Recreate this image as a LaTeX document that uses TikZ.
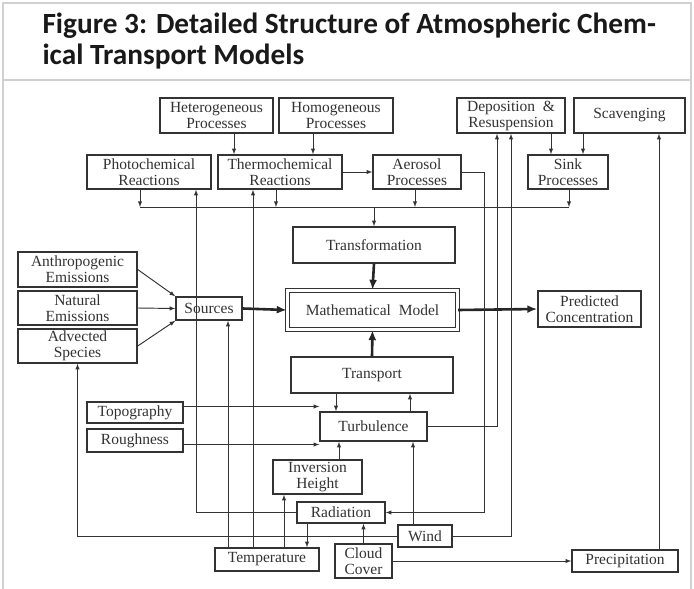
\documentclass[tikz,border=0pt]{standalone}
\usepackage{fontspec}
\setmainfont{Liberation Serif}
\newfontfamily\titlefont{Carlito}
\usetikzlibrary{arrows.meta}

\begin{document}
\begin{tikzpicture}[x=1pt, y=-1pt,
    box/.style={draw=black!80, line width=1.4pt, fill=white, align=center,
      inner sep=0pt, text=black!80, font=\fontsize{15.5}{16}\selectfont},
    heading/.style={anchor=base west, text=black!90,
      font=\titlefont\bfseries\fontsize{29.3}{30}\selectfont},
    link/.style={-latex, line width=0.95pt, draw=black!80},
    heavy/.style={-{Latex[length=10pt,width=8pt]}, line width=2.6pt, draw=black!85},
    frame/.style={draw=black!18, line width=1.2pt}]

  \useasboundingbox (0,0) rectangle (694,589);

  % frame and caption
  \draw[frame] (3,589) -- (3,3) -- (691,3) -- (691,589);
  \draw[frame] (3,80) -- (691,80);
  \node[heading] (title) at (39,33) {Figure 3: Detailed Structure of Atmospheric Chem-};
  \node[heading] (title2) at (39,64) {ical Transport Models};

  % boxes: name / centre x / centre y / width / height / text
  \foreach \al/\x/\y/\w/\h/\lab in {%
    hetero/216.5/115.5/113/35/{Heterogeneous\\Processes},%
    homo/336/115.5/114/35/{Homogeneous\\Processes},%
    depos/511/115.5/108/35/{Deposition \ \&\\Resuspension},%
    scav/629.5/115.5/111/35/{Scavenging},%
    photo/149/172/124/34/{Photochemical\\Reactions},%
    thermo/280/172/124/34/{Thermochemical\\Reactions},%
    aero/417/172/88/34/{Aerosol\\Processes},%
    sink/568/172/80/34/{Sink\\Processes},%
    transf/374/245/162/36/{Transformation},%
    anthro/77.5/269.5/119/35/{Anthropogenic\\Emissions},%
    natural/77.5/308/119/34/{Natural\\Emissions},%
    advect/77.5/346/119/34/{Advected\\Species},%
    sources/209/308.5/66/23/{Sources},%
    predict/589.5/309/103/36/{Predicted\\Concentration},%
    transp/372/375/162/36/{Transport},%
    topo/135/412.5/96/21/{Topography},%
    rough/135/440.5/96/23/{Roughness},%
    turb/373.5/426.5/107/29/{Turbulence},%
    inver/317.5/477/89/34/{Inversion\\Height},%
    radia/341/512.5/88/21/{Radiation},%
    wind/425/536/54/22/{Wind},%
    temp/267/559.5/104/23/{Temperature},%
    cloud/363.5/561/57/34/{Cloud\\Cover},%
    precip/625/561/106/22/{Precipitation}%
  }{ \node[box, minimum width=\w, minimum height=\h] (\al) at (\x,\y) {\lab}; }

  \node[box, double, double distance=2.6pt, minimum width=170, minimum height=39]
    (math) at (372.5,310) {Mathematical\ \ Model};

  % chemistry bus
  \coordinate (bus) at (374,207);
  \draw[link, -] ([xshift=-9]photo.south |- bus) -- ([xshift=1]sink.south |- bus);
  \draw[link] ([xshift=-9]photo.south) -- ([xshift=-9]photo.south |- bus);
  \draw[link] ([xshift=-4]thermo.south) -- ([xshift=-4]thermo.south |- bus);
  \draw[link] ([xshift=-2]aero.south) -- ([xshift=-2]aero.south |- bus);
  \draw[link] ([xshift=1]sink.south) -- ([xshift=1]sink.south |- bus);
  \draw[link] (bus) -- (transf.north);

  \draw[link] ([xshift=17.5]hetero.south) -- ([xshift=17.5]hetero.south |- thermo.north);
  \draw[link] ([xshift=-23]homo.south) -- ([xshift=-23]homo.south |- thermo.north);
  \draw[link] ([xshift=40]depos.south) -- ([xshift=40]depos.south |- sink.north);
  \draw[link] ([xshift=-46.5]scav.south) -- ([xshift=-46.5]scav.south |- sink.north);
  \draw[link] (thermo.east) -- (aero.west);

  % emissions
  \foreach \from/\to in {%
    anthro/sources.north west, natural/sources.west, advect/sources.south west%
  }{ \draw[link] (\from.east) -- (\to); }

  % model core
  \foreach \from/\to in {%
    sources.east/math.west, transf.south/math.north, transp.north/math.south,
    math.east/predict.west%
  }{ \draw[heavy] (\from) -- (\to); }

  % meteorology
  \draw[link] ([yshift=6]topo.east) -- ([yshift=6]topo.east -| turb.west);
  \draw[link] ([yshift=-4]rough.east) -- ([yshift=-4]rough.east -| turb.west);
  \draw[link] ([xshift=-36]transp.south) -- ([xshift=-36]transp.south |- turb.north);
  \draw[link] ([xshift=36.5]turb.north) -- ([xshift=36.5]turb.north |- transp.south);
  \draw[link] ([xshift=21.5]inver.north) -- ([xshift=21.5]inver.north |- turb.south);
  \draw[link] ([xshift=-12]wind.north) -- ([xshift=-12]wind.north |- turb.south);
  \draw[link] (turb.east) -| ([xshift=-14]depos.south);
  \draw[link] (wind.east) -| (depos.south);
  \draw[link] (wind.west) -| (advect.south);
  \draw[link] (aero.east) -- ++(23,0) |- (radia.east);
  \draw[link] (radia.west) -| ([xshift=47]photo.south);
  \draw[link] ([xshift=-34]radia.south) -- ([xshift=-34]radia.south |- temp.north);
  \draw[link] (cloud.north) -- (cloud.north |- radia.south);
  \draw[link] (cloud.east) -- (precip.west);
  \draw[link] ([xshift=34]precip.north) -- ([xshift=34]precip.north |- scav.south);

  % temperature
  \foreach \dx/\to in {-39/sources, -14/thermo, 17/inver}{
    \draw[link] ([xshift=\dx]temp.north) -- ([xshift=\dx]temp.north |- \to.south);
  }
\end{tikzpicture}
\end{document}
